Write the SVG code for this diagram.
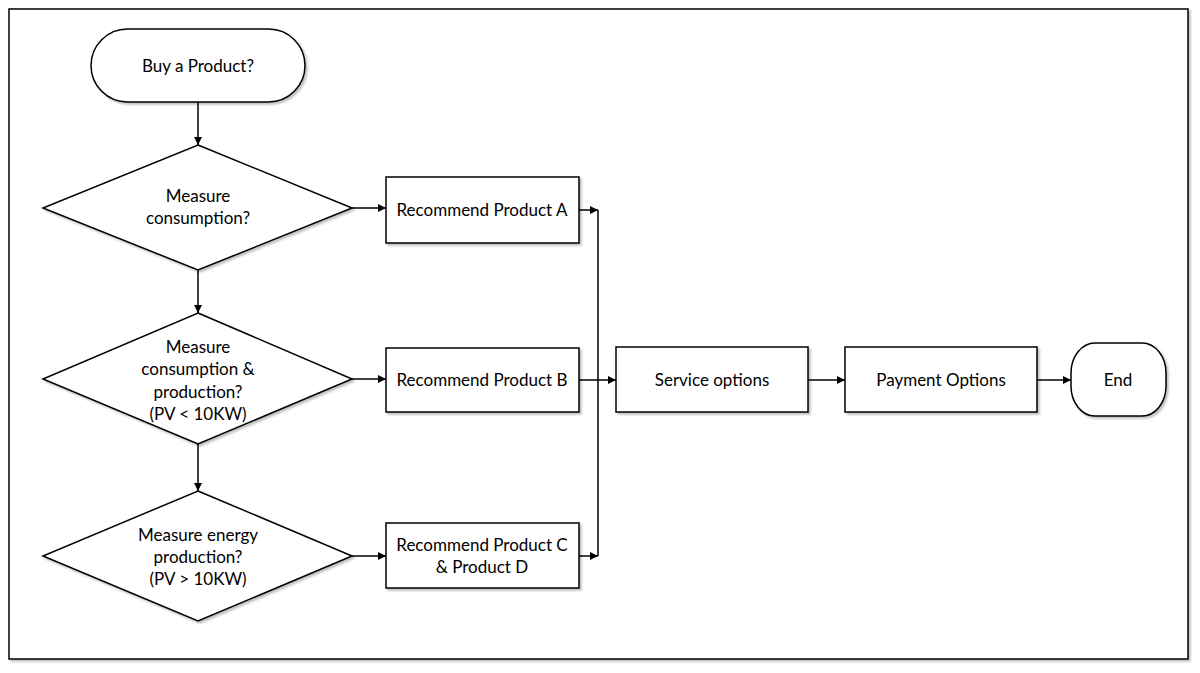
<svg xmlns="http://www.w3.org/2000/svg" width="1200" height="673" viewBox="0 0 1200 673">
<style>
.shape{fill:#fff;stroke:#000;stroke-width:1.5;filter:url(#sh)}
.lbl{font-family:Lato,"Noto Sans","Liberation Sans",sans-serif;font-size:17px;fill:#000;text-anchor:middle;dominant-baseline:central}
.con{fill:none;stroke:#000;stroke-width:1.5}
</style>
<defs>
<filter id="sh" x="-10%" y="-10%" width="130%" height="130%">
<feDropShadow dx="2" dy="2" stdDeviation="1.2" flood-color="#000" flood-opacity="0.25"/>
</filter>
<marker id="arr" viewBox="0 0 10 10" refX="10" refY="5" markerWidth="8" markerHeight="8" markerUnits="userSpaceOnUse" orient="auto">
<path d="M0,0 L10,5 L0,10 z" fill="#000"/>
</marker>
</defs>
<rect x="9" y="9" width="1179" height="650" fill="#fff" stroke="#000" stroke-width="1.5" filter="url(#sh)"/>

<g id="connectors">
<line class="con" x1="198" y1="102" x2="198" y2="145" marker-end="url(#arr)"/>
<line class="con" x1="198" y1="270" x2="198" y2="313" marker-end="url(#arr)"/>
<line class="con" x1="198" y1="444" x2="198" y2="491" marker-end="url(#arr)"/>
<line class="con" x1="352" y1="208" x2="386" y2="208" marker-end="url(#arr)"/>
<line class="con" x1="352" y1="379" x2="386" y2="379" marker-end="url(#arr)"/>
<line class="con" x1="352" y1="556" x2="386" y2="556" marker-end="url(#arr)"/>
<line class="con" x1="579" y1="210" x2="598" y2="210" marker-end="url(#arr)"/>
<line class="con" x1="579" y1="556" x2="598" y2="556" marker-end="url(#arr)"/>
<line class="con" x1="598" y1="210" x2="598" y2="556"/>
<line class="con" x1="579" y1="380" x2="616" y2="380" marker-end="url(#arr)"/>
<line class="con" x1="808" y1="380" x2="845" y2="380" marker-end="url(#arr)"/>
<line class="con" x1="1037" y1="380" x2="1071" y2="380" marker-end="url(#arr)"/>
</g>

<g id="start">
<rect class="shape" x="91" y="29" width="214" height="73" rx="36.5" ry="36.5"/>
<text class="lbl" x="198" y="65">Buy a Product?</text>
</g>

<g id="decision1">
<polygon class="shape" points="198,145 352,208 198,270 43,208"/>
<text class="lbl" x="198" y="195">Measure</text>
<text class="lbl" x="198" y="217">consumption?</text>
</g>

<g id="decision2">
<polygon class="shape" points="198,313 352,379 198,444 43,379"/>
<text class="lbl" x="198" y="346">Measure</text>
<text class="lbl" x="198" y="368">consumption &amp;</text>
<text class="lbl" x="198" y="391">production?</text>
<text class="lbl" x="198" y="413">(PV &lt; 10KW)</text>
</g>

<g id="decision3">
<polygon class="shape" points="198,491 352,556 198,621 43,556"/>
<text class="lbl" x="198" y="534">Measure energy</text>
<text class="lbl" x="198" y="556">production?</text>
<text class="lbl" x="198" y="578">(PV &gt; 10KW)</text>
</g>

<g id="productA">
<rect class="shape" x="386" y="177" width="193" height="66"/>
<text class="lbl" x="482" y="209">Recommend Product A</text>
</g>

<g id="productB">
<rect class="shape" x="386" y="348" width="193" height="64"/>
<text class="lbl" x="482" y="379">Recommend Product B</text>
</g>

<g id="productCD">
<rect class="shape" x="386" y="523" width="193" height="65"/>
<text class="lbl" x="482" y="544">Recommend Product C</text>
<text class="lbl" x="482" y="566">&amp; Product D</text>
</g>

<g id="service">
<rect class="shape" x="616" y="347" width="192" height="65"/>
<text class="lbl" x="712" y="379">Service options</text>
</g>

<g id="payment">
<rect class="shape" x="845" y="347" width="192" height="65"/>
<text class="lbl" x="941" y="379">Payment Options</text>
</g>

<g id="end">
<rect class="shape" x="1071" y="343" width="95" height="73" rx="24" ry="30"/>
<text class="lbl" x="1118" y="379">End</text>
</g>
</svg>
